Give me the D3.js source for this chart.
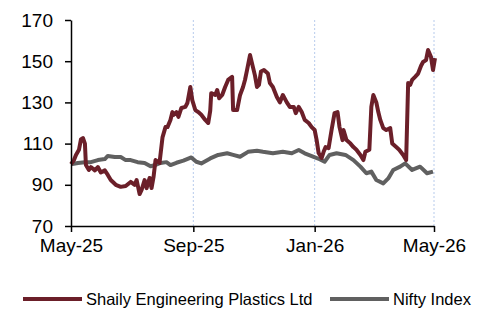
<!DOCTYPE html>
<html lang="en">
<head>
<meta charset="utf-8">
<title>Shaily vs Nifty</title>
<script src="https://d3js.org/d3.v7.min.js"></script>
<style>
  body { margin: 0; background: #fff; }
  text { font-family: "Liberation Sans", Arial, sans-serif; fill: #000; }
</style>
</head>
<body>
<script>
// Series names
var seriesNames = ["Shaily Engineering Plastics Ltd", "Nifty Index"];

// Shaily Engineering Plastics Ltd (rebased to 100)
var shailyDates = ["2025-05-01","2025-05-04","2025-05-06","2025-05-09","2025-05-11","2025-05-13","2025-05-15","2025-05-16","2025-05-19","2025-05-21","2025-05-25","2025-05-28","2025-05-31","2025-06-04","2025-06-07","2025-06-10","2025-06-15","2025-06-20","2025-06-25","2025-06-30","2025-07-04","2025-07-06","2025-07-09","2025-07-11","2025-07-14","2025-07-16","2025-07-19","2025-07-21","2025-07-23","2025-07-25","2025-07-29","2025-08-01","2025-08-04","2025-08-06","2025-08-09","2025-08-11","2025-08-12","2025-08-15","2025-08-17","2025-08-20","2025-08-24","2025-08-26","2025-08-29","2025-08-31","2025-09-03","2025-09-06","2025-09-09","2025-09-13","2025-09-16","2025-09-18","2025-09-19","2025-09-23","2025-09-25","2025-09-27","2025-09-30","2025-10-03","2025-10-06","2025-10-10","2025-10-11","2025-10-15","2025-10-18","2025-10-21","2025-10-23","2025-10-25","2025-10-28","2025-10-31","2025-11-02","2025-11-04","2025-11-06","2025-11-08","2025-11-11","2025-11-15","2025-11-17","2025-11-20","2025-11-24","2025-11-27","2025-11-30","2025-12-04","2025-12-07","2025-12-11","2025-12-13","2025-12-16","2025-12-19","2025-12-22","2025-12-26","2025-12-29","2026-01-01","2026-01-03","2026-01-05","2026-01-08","2026-01-10","2026-01-12","2026-01-15","2026-01-18","2026-01-21","2026-01-24","2026-01-26","2026-01-29","2026-01-30","2026-02-02","2026-02-06","2026-02-09","2026-02-12","2026-02-16","2026-02-19","2026-02-21","2026-02-25","2026-02-27","2026-03-01","2026-03-04","2026-03-06","2026-03-08","2026-03-11","2026-03-14","2026-03-18","2026-03-20","2026-03-24","2026-03-27","2026-03-31","2026-04-03","2026-04-05","2026-04-07","2026-04-09","2026-04-12","2026-04-15","2026-04-18","2026-04-20","2026-04-23","2026-04-25","2026-04-28","2026-04-30","2026-05-02"];
var shailyValues = [100,102,104.5,107,112,112.7,110,99.6,97.2,98.6,97,98.6,96,97,94.8,92.3,90,89,89.4,91.4,90,92.3,85.5,87.5,92.3,88.4,93.3,88.4,93.8,102,100.6,113,118,118,121.5,125.3,123.9,125.3,123,127.3,127.8,129.7,137.5,131,126.3,125.3,124,121.5,120,126,134.5,133.6,136,132,133.6,137.5,140.9,142.4,126.3,126.3,133.6,137.5,141,145.7,153,147,143,137.5,138.5,145,145.7,144,139.4,137.5,132.6,130,133.6,130,127.8,127.8,124.8,127.8,125.3,121.5,120,118,116.6,111.7,105.4,103,106,108.3,107.8,116.6,124.8,125.3,118,111.7,116.6,111.7,110,108.3,107,104.5,102,106,107,127.8,133.6,130,125.3,121.5,117.5,116.6,117.5,110,108.3,107,104.5,102,139.4,138.5,140.9,142.4,144,147.8,149.6,150.5,155.4,152,145.7,151.5];

// Nifty Index (rebased to 100)
var niftyDates = ["2025-05-01","2025-05-08","2025-05-15","2025-05-21","2025-05-28","2025-06-04","2025-06-07","2025-06-14","2025-06-20","2025-06-25","2025-06-30","2025-07-07","2025-07-14","2025-07-20","2025-07-25","2025-07-30","2025-08-05","2025-08-09","2025-08-15","2025-08-22","2025-08-30","2025-09-04","2025-09-09","2025-09-18","2025-09-26","2025-10-05","2025-10-11","2025-10-18","2025-10-26","2025-11-04","2025-11-10","2025-11-20","2025-11-30","2025-12-09","2025-12-16","2025-12-22","2025-12-31","2026-01-06","2026-01-11","2026-01-16","2026-01-23","2026-02-01","2026-02-09","2026-02-16","2026-02-22","2026-02-27","2026-03-04","2026-03-11","2026-03-16","2026-03-21","2026-03-28","2026-04-02","2026-04-09","2026-04-17","2026-04-24","2026-04-30"];
var niftyValues = [100,100.6,101,101,102,102.5,104,103.5,103.5,102,102,101,100.6,99,99.6,100.6,101,99.6,100.7,101.7,103.3,101.2,100.4,102.8,104.5,105.3,104.5,103.6,106,106.5,106,105.3,106,105.3,106.9,105.3,103.6,102.4,101.2,104.5,105.3,104.5,102,98.8,95.6,96.4,92.3,90.7,93.1,97.2,98.8,100.4,97.2,98.8,95.6,96.4];

// Axis ticks
var yTicks = [70, 90, 110, 130, 150, 170];
var xTickDates = ["2025-05-01", "2025-09-01", "2026-01-01", "2026-05-01"];

var w = 484, h = 309;
var plotLeft = 71, plotRight = 434, plotTop = 20, plotBottom = 226;
var colors = ["#6b1f29", "#606060"];

var parse = d3.timeParse("%Y-%m-%d");

var svg = d3.select("body").append("svg")
  .attr("width", w)
  .attr("height", h);

var xScale = d3.scaleTime()
  .domain([parse("2025-05-01"), parse("2026-05-01")])
  .range([plotLeft, plotRight]);

var yScale = d3.scaleLinear()
  .domain([70, 170])
  .range([plotBottom, plotTop]);

// dotted vertical gridlines
svg.selectAll("line.grid")
  .data(xTickDates.slice(1))
  .enter()
  .append("line")
  .attr("class", "grid")
  .attr("x1", function(d) { return xScale(parse(d)); })
  .attr("x2", function(d) { return xScale(parse(d)); })
  .attr("y1", plotTop)
  .attr("y2", plotBottom)
  .attr("stroke", "#b7cbec")
  .attr("stroke-width", 1)
  .attr("stroke-dasharray", "2,2");

// lines
var line = d3.line()
  .x(function(d) { return xScale(d[0]); })
  .y(function(d) { return yScale(d[1]); });

var niftyData = niftyDates.map(function(d, i) { return [parse(d), niftyValues[i]]; });
var shailyData = shailyDates.map(function(d, i) { return [parse(d), shailyValues[i]]; });

svg.append("path")
  .datum(niftyData)
  .attr("fill", "none")
  .attr("stroke", colors[1])
  .attr("stroke-width", 4)
  .attr("stroke-linejoin", "round")
  .attr("d", line);

svg.append("path")
  .datum(shailyData)
  .attr("fill", "none")
  .attr("stroke", colors[0])
  .attr("stroke-width", 4)
  .attr("stroke-linejoin", "round")
  .attr("d", line);

// axes
var xAxis = d3.axisBottom(xScale)
  .tickValues(xTickDates.map(parse))
  .tickFormat(d3.timeFormat("%b-%y"))
  .tickSize(6)
  .tickSizeOuter(0)
  .tickPadding(7);

var yAxis = d3.axisLeft(yScale)
  .tickValues(yTicks)
  .tickSize(6)
  .tickSizeOuter(0)
  .tickPadding(12);

var gx = svg.append("g")
  .attr("transform", "translate(0," + plotBottom + ")")
  .call(xAxis);

var gy = svg.append("g")
  .attr("transform", "translate(" + plotLeft + ",0)")
  .call(yAxis);

[gx, gy].forEach(function(g) {
  g.select(".domain").attr("stroke", "#000").attr("stroke-width", 1.5);
  g.selectAll(".tick line").attr("stroke", "#000").attr("stroke-width", 1.5);
  g.selectAll(".tick text")
    .style("font-family", "'Liberation Sans', Arial, sans-serif")
    .style("font-size", "19px")
    .attr("fill", "#000");
});

// legend
var legendItems = [
  { name: seriesNames[0], x: 23, color: colors[0] },
  { name: seriesNames[1], x: 330, color: colors[1] }
];
var lg = svg.selectAll("g.legend")
  .data(legendItems)
  .enter()
  .append("g")
  .attr("class", "legend")
  .attr("transform", function(d) { return "translate(" + d.x + ",299)"; });

lg.append("line")
  .attr("x1", 0)
  .attr("x2", 59)
  .attr("stroke", function(d) { return d.color; })
  .attr("stroke-width", 4);

lg.append("text")
  .attr("x", 63)
  .attr("dy", "0.35em")
  .style("font-size", "16.5px")
  .text(function(d) { return d.name; });
</script>
</body>
</html>
